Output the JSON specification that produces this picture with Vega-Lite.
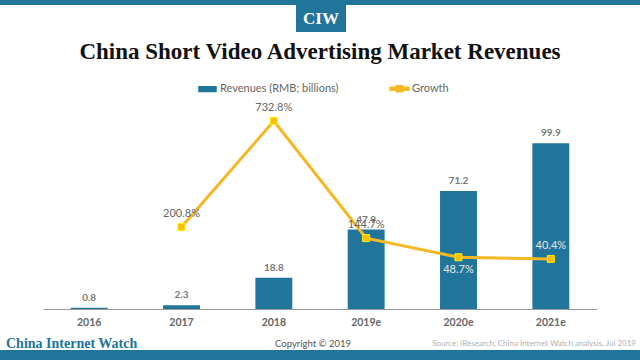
{
  "$schema": "https://vega.github.io/schema/vega-lite/v6.json",
  "width": 554,
  "height": 209,
  "autosize": {"type": "none"},
  "padding": {"left": 43, "top": 100, "right": 43, "bottom": 51},
  "background": "white",
  "config": {"view": {"stroke": null}, "font": "Lato"},
  "data": {
    "values": [
      {"year": "2016", "revenue": 0.8, "growth": null},
      {"year": "2017", "revenue": 2.3, "growth": 2.008},
      {"year": "2018", "revenue": 18.8, "growth": 7.328},
      {"year": "2019e", "revenue": 47.9, "growth": 1.447},
      {"year": "2020e", "revenue": 71.2, "growth": 0.487},
      {"year": "2021e", "revenue": 99.9, "growth": 0.404}
    ]
  },
  "layer": [
    {
      "data": {"values": [{}]},
      "mark": {"type": "rect", "color": "#21759b"},
      "encoding": {"x": {"value": -43}, "x2": {"value": 597}, "y": {"value": -100}, "y2": {"value": -95}}
    },
    {
      "data": {"values": [{}]},
      "mark": {"type": "rect", "color": "#21759b"},
      "encoding": {"x": {"value": 253}, "x2": {"value": 303}, "y": {"value": -95}, "y2": {"value": -68}}
    },
    {
      "data": {"values": [{}]},
      "mark": {"type": "rect", "color": "#21759b"},
      "encoding": {"x": {"value": -43}, "x2": {"value": 597}, "y": {"value": 250}, "y2": {"value": 260}}
    },
    {
      "data": {"values": [{}]},
      "mark": {"type": "text", "text": "CIW", "font": "Liberation Serif", "fontWeight": "bold", "fontSize": 17, "color": "white", "align": "center", "baseline": "middle"},
      "encoding": {"x": {"value": 278}, "y": {"value": -81}}
    },
    {
      "data": {"values": [{}]},
      "mark": {"type": "text", "text": "China Short Video Advertising Market Revenues", "font": "Liberation Serif", "fontWeight": "bold", "fontSize": 23, "color": "#111", "align": "center", "baseline": "middle"},
      "encoding": {"x": {"value": 277}, "y": {"value": -48}}
    },
    {
      "data": {"values": [{}]},
      "mark": {"type": "text", "text": "China Internet Watch", "font": "Liberation Serif", "fontWeight": "bold", "fontSize": 14, "color": "#21759b", "align": "left", "baseline": "middle"},
      "encoding": {"x": {"value": -37}, "y": {"value": 244}}
    },
    {
      "data": {"values": [{}]},
      "mark": {"type": "text", "text": "Copyright © 2019", "fontSize": 9.5, "color": "#555", "align": "center", "baseline": "middle"},
      "encoding": {"x": {"value": 270}, "y": {"value": 244}}
    },
    {
      "data": {"values": [{}]},
      "mark": {"type": "text", "text": "Source: iResearch, China Internet Watch analysis, Jul 2019", "fontSize": 8, "color": "#b0b0b0", "align": "right", "baseline": "middle"},
      "encoding": {"x": {"value": 593}, "y": {"value": 244}}
    },
    {
      "mark": {"type": "bar"},
      "encoding": {
        "x": {"field": "year", "type": "nominal", "sort": null, "scale": {"paddingInner": 0.6, "paddingOuter": 0.3},
          "axis": {"title": null, "labelAngle": 0, "ticks": false, "labelPadding": 8, "labelFont": "Lato", "labelFontWeight": "bold", "labelFontSize": 10.5, "labelColor": "#666", "domainColor": "#999", "grid": false}},
        "y": {"field": "revenue", "type": "quantitative", "scale": {"domain": [0, 126]}, "axis": null},
        "color": {"datum": "Revenues (RMB; billions)",
          "scale": {"domain": ["Revenues (RMB; billions)", "Growth"], "range": ["#21759b", "#f5b823"]},
          "legend": {"title": null, "orient": "none", "legendX": 155, "legendY": -21, "direction": "horizontal",
            "labelFont": "Lato", "labelFontSize": 11, "labelColor": "#666", "symbolSize": 289, "columnPadding": 48, "labelOffset": 3,
            "encode": {"symbols": {"update": {
              "shape": [{"test": "datum.value === 'Growth'", "value": "M-1.1,-0.18H-0.36V-0.36H0.36V-0.18H1.1V0.18H0.36V0.36H-0.36V0.18H-1.1Z"}, {"value": "M-1,-0.28H1V0.28H-1Z"}],
              "fill": [{"test": "datum.value === 'Growth'", "value": "#f5b823"}, {"value": "#21759b"}],
              "stroke": {"value": null},
              "opacity": {"value": 1}
            }}}}
        }
      }
    },
    {
      "mark": {"type": "text", "fontWeight": "bold", "fontSize": 10, "color": "#777", "baseline": "bottom", "dy": -5},
      "encoding": {
        "x": {"field": "year", "type": "nominal", "sort": null},
        "y": {"field": "revenue", "type": "quantitative", "scale": {"domain": [0, 126]}, "axis": null},
        "text": {"field": "revenue", "type": "quantitative", "format": ".1f"}
      }
    },
    {
      "mark": {"type": "line", "strokeWidth": 3},
      "encoding": {
        "x": {"field": "year", "type": "nominal", "sort": null},
        "y": {"field": "growth", "type": "quantitative", "scale": {"domain": [-2.11, 8.38]}, "axis": null},
        "color": {"datum": "Growth"}
      }
    },
    {
      "mark": {"type": "point", "shape": "square", "filled": true, "size": 49, "fill": "#f9bf00", "stroke": "#ffee00", "strokeWidth": 1, "opacity": 1},
      "encoding": {
        "x": {"field": "year", "type": "nominal", "sort": null},
        "y": {"field": "growth", "type": "quantitative", "scale": {"domain": [-2.11, 8.38]}, "axis": null}
      }
    },
    {
      "transform": [{"filter": "datum.growth != null && datum.year != '2020e'"}],
      "mark": {"type": "text", "fontSize": 11, "baseline": "middle", "dy": -13},
      "encoding": {
        "x": {"field": "year", "type": "nominal", "sort": null},
        "y": {"field": "growth", "type": "quantitative", "scale": {"domain": [-2.11, 8.38]}, "axis": null},
        "text": {"field": "growth", "type": "quantitative", "format": ".1%"},
        "color": {"condition": {"test": "datum.year == '2021e'", "value": "#e6e6e6"}, "value": "#666"}
      }
    },
    {
      "transform": [{"filter": "datum.year == '2020e'"}],
      "mark": {"type": "text", "fontSize": 11, "baseline": "middle", "dy": 13, "color": "#e6e6e6"},
      "encoding": {
        "x": {"field": "year", "type": "nominal", "sort": null},
        "y": {"field": "growth", "type": "quantitative", "scale": {"domain": [-2.11, 8.38]}, "axis": null},
        "text": {"field": "growth", "type": "quantitative", "format": ".1%"}
      }
    }
  ],
  "resolve": {"scale": {"y": "independent"}}
}
